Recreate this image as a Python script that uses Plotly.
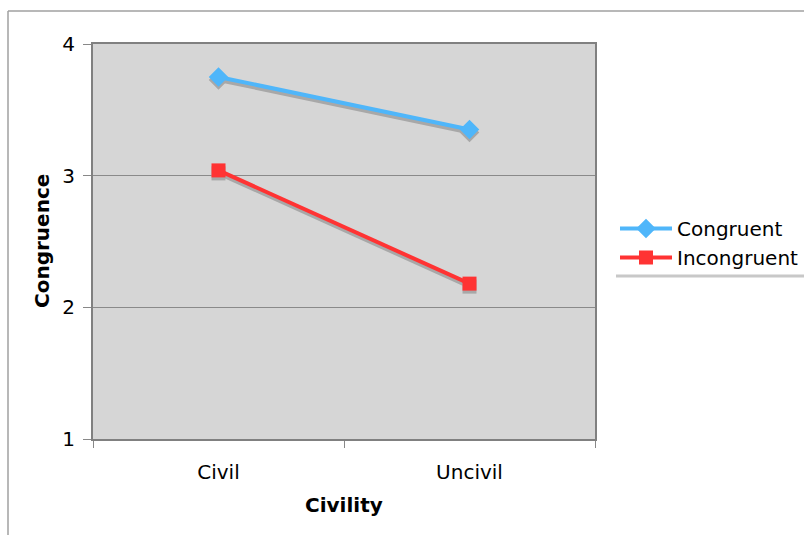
import plotly.graph_objects as go

# Civility condition on x, mean congruence on y
civility = ["Civil", "Uncivil"]
congruent = [3.75, 3.35]
incongruent = [3.04, 2.18]

W, H = 804, 535
L, R, T, B = 93, 209, 44, 96
plot_h = H - T - B
y_min, y_max = 1, 4
px_per_unit = plot_h / (y_max - y_min)
shadow_dy = 3 / px_per_unit  # drop shadow ~3px below each line

FONT = "DejaVu Sans"
BLUE = "#4fb6fa"
RED = "#ff3333"
SHADOW = "#a8a8a8"

fig = go.Figure()

# Drop shadows under the series lines
for vals, sym in [(congruent, "diamond"), (incongruent, "square")]:
    fig.add_trace(go.Scatter(
        x=civility, y=[v - shadow_dy for v in vals], mode="lines+markers",
        line=dict(color=SHADOW, width=4),
        marker=dict(symbol=sym, size=15 if sym == "diamond" else 14, color=SHADOW),
        showlegend=False, hoverinfo="skip"))

fig.add_trace(go.Scatter(
    x=civility, y=congruent, mode="lines+markers", name="Congruent",
    line=dict(color=BLUE, width=4),
    marker=dict(symbol="diamond", size=15, color=BLUE)))
fig.add_trace(go.Scatter(
    x=civility, y=incongruent, mode="lines+markers", name="Incongruent",
    line=dict(color=RED, width=4),
    marker=dict(symbol="square", size=14, color=RED)))

def px_x(px):
    return (px - L) / (W - L - R)

def px_y(py):
    return (H - B - py) / plot_h

shapes = [
    # outer chart frame (top and left edges)
    dict(type="line", xref="paper", yref="paper", x0=px_x(8), x1=px_x(W + 5),
         y0=px_y(11), y1=px_y(11), line=dict(color="#a0a0a0", width=1.5)),
    dict(type="line", xref="paper", yref="paper", x0=px_x(8), x1=px_x(8),
         y0=px_y(11), y1=px_y(H + 5), line=dict(color="#a0a0a0", width=1.5)),
    # legend box shadow
    dict(type="line", xref="paper", yref="paper", x0=px_x(616), x1=px_x(W + 5),
         y0=px_y(276), y1=px_y(276), line=dict(color="#c8c8c8", width=3)),
]

annotations = [
    dict(text="<b>Congruence</b>", xref="paper", yref="paper", x=px_x(42), y=px_y(241),
         xanchor="center", yanchor="middle",
         textangle=-90, showarrow=False, font=dict(family=FONT, size=20, color="black")),
    dict(text="<b>Civility</b>", xref="paper", yref="paper", x=px_x(344), y=px_y(505),
         xanchor="center", yanchor="middle",
         showarrow=False, font=dict(family=FONT, size=20, color="black")),
]

fig.update_layout(
    width=W, height=H,
    margin=dict(l=L, r=R, t=T, b=B, autoexpand=False),
    paper_bgcolor="white", plot_bgcolor="#d6d6d6",
    font=dict(family=FONT, size=20, color="black"),
    showlegend=True,
    legend=dict(x=px_x(615), y=px_y(243), xanchor="left", yanchor="middle",
                bgcolor="rgba(0,0,0,0)", font=dict(family=FONT, size=20),
                tracegroupgap=0, itemwidth=52),
    shapes=shapes, annotations=annotations,
    xaxis=dict(type="category", range=[-0.5, 1.5], tickson="boundaries",
               ticks="outside", ticklen=7, tickcolor="#888888",
               tickfont=dict(family=FONT, size=20), automargin=False,
               showgrid=False, showline=True, linecolor="#808080", linewidth=2,
               mirror=True, ticklabelstandoff=14, zeroline=False, fixedrange=True),
    yaxis=dict(range=[y_min, y_max], tickvals=[1, 2, 3, 4], ticks="outside",
               ticklen=8, tickcolor="#888888", showgrid=True, gridcolor="#8a8a8a",
               tickfont=dict(family=FONT, size=20), automargin=False,
               gridwidth=1, showline=True, linecolor="#808080", linewidth=2,
               mirror=True, zeroline=False, ticklabelstandoff=4, fixedrange=True),
)

fig.write_html("out.html")
